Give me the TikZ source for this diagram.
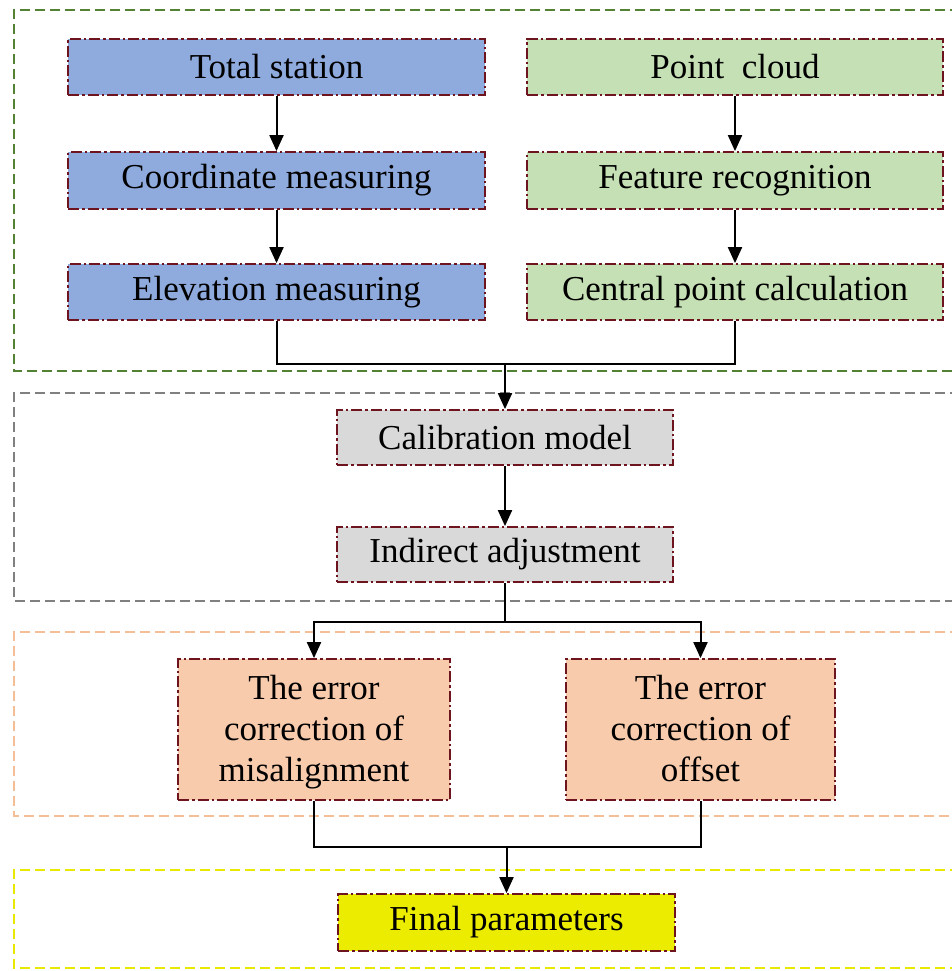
\documentclass[tikz,border=0pt]{standalone}
\usepackage{fontspec}
\setmainfont{Liberation Serif}
\usetikzlibrary{arrows.meta}
\definecolor{bluef}{RGB}{143,170,220}
\definecolor{greenf}{RGB}{197,224,180}
\definecolor{grayf}{RGB}{217,217,217}
\definecolor{orangef}{RGB}{248,203,173}
\definecolor{yellowf}{RGB}{236,236,0}
\definecolor{boxline}{RGB}{110,20,30}
\definecolor{grpgreen}{RGB}{84,130,53}
\definecolor{grpgray}{RGB}{128,128,128}
\definecolor{grporange}{RGB}{244,190,150}
\definecolor{grpyellow}{RGB}{232,232,0}
\tikzset{
  x=1pt, y=-1pt,
  stepbox/.style={draw=boxline, line width=1.8pt, dash pattern=on 11pt off 3pt on 2.5pt off 3pt,
    inner sep=0pt, align=center, font=\fontsize{35}{41}\selectfont},
  grp/.style={line width=2.6pt, dash pattern=on 10pt off 5pt},
  conn/.style={line width=2pt, black},
  arr/.style={conn, -{Triangle[length=16pt,width=14pt]}}
}
\begin{document}
\begin{tikzpicture}
\useasboundingbox (0,0) rectangle (951,971);
% groups
\draw[grp, draw=grpgreen] (960,10) -- (14,10) -- (14,371) -- (960,371);
\draw[grp, draw=grpgray] (960,393) -- (14,393) -- (14,601) -- (960,601);
\draw[grp, draw=grporange] (960,632) -- (14,632) -- (14,816) -- (960,816);
\draw[grp, draw=grpyellow] (960,870) -- (14,870) -- (14,968) -- (960,968);
% boxes
\node[stepbox, fill=bluef, minimum width=417pt, minimum height=56pt] (ts) at (276.5,67) {Total station};
\node[stepbox, fill=bluef, minimum width=417pt, minimum height=57pt] (cm) at (276.5,180.5) {Coordinate measuring};
\node[stepbox, fill=bluef, minimum width=417pt, minimum height=56pt] (em) at (276.5,292) {Elevation measuring};
\node[stepbox, fill=greenf, minimum width=416pt, minimum height=56pt] (pc) at (735,67) {Point\ \ cloud};
\node[stepbox, fill=greenf, minimum width=416pt, minimum height=57pt] (fr) at (735,180.5) {Feature recognition};
\node[stepbox, fill=greenf, minimum width=416pt, minimum height=56pt] (cp) at (735,292) {Central point calculation};
\node[stepbox, fill=grayf, minimum width=336pt, minimum height=55pt] (cal) at (505,437.5) {Calibration model};
\node[stepbox, fill=grayf, minimum width=336pt, minimum height=55pt] (ia) at (505,554.5) {Indirect adjustment};
\node[stepbox, fill=orangef, minimum width=272pt, minimum height=141pt] (mis) at (314,729.5) {\rule{0pt}{30pt}The error\\correction of\\misalignment};
\node[stepbox, fill=orangef, minimum width=269pt, minimum height=141pt] (off) at (700.5,729.5) {\rule{0pt}{30pt}The error\\correction of\\offset\vphantom{g}};
\node[stepbox, fill=yellowf, minimum width=337pt, minimum height=57pt] (fin) at (506.5,922.5) {Final parameters};
% junction coordinates
\coordinate (j1) at (cal.north |- 0,364);
\coordinate (j2) at (ia.south |- 0,622);
\coordinate (j3) at (fin.north |- 0,847);
% connectors
\draw[arr] (ts) -- (cm);
\draw[arr] (cm) -- (em);
\draw[arr] (pc) -- (fr);
\draw[arr] (fr) -- (cp);
\draw[conn] (em.south) |- (j1) -| (cp.south);
\draw[arr] (j1) -- (cal.north);
\draw[arr] (cal) -- (ia);
\draw[conn] (ia.south) -- (j2);
\draw[arr] (j2) -| (mis.north);
\draw[arr] (j2) -| (off.north);
\draw[conn] (mis.south) |- (j3) -| (off.south);
\draw[arr] (j3) -- (fin.north);
\end{tikzpicture}
\end{document}
